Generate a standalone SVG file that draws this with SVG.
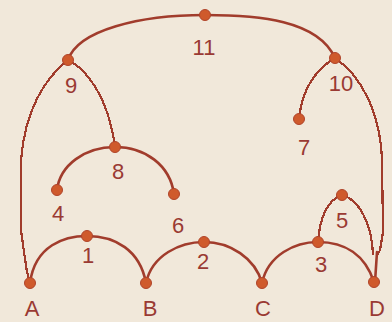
<svg xmlns="http://www.w3.org/2000/svg" width="392" height="322" viewBox="0 0 392 322">
<style>
.arc{fill:none;stroke:#a13c2c;stroke-width:2.6;stroke-linecap:round}
.jag{fill:none;stroke:#a13c2c;stroke-width:2.2;shape-rendering:crispEdges}
.dot{fill:#cf5a2c;stroke:#b0442a;stroke-width:1}
.lbl{font-family:"Liberation Sans",Arial,sans-serif;font-size:22px;fill:#9a3a33;text-anchor:middle}
</style>
<rect width="392" height="322" fill="#f1e8da"/>
<g id="connectors">
<path class="arc" d="M30,283 C35,245 65,236 87,236 C115,236 140,250 146,283"/>
<path class="arc" d="M146,283 C152,255 180,242 204,242 C230,242 255,258 262,283"/>
<path class="arc" d="M262,283 C268,255 295,242 318,242 C345,242 365,255 374,282"/>
<path class="arc" d="M57,190 C60,165 85,147 115,147 C145,147 170,165 174,194"/>
<path class="arc" d="M68,60 C78,30 140,15 205,15 C258,15 318,20 335,58"/>
<path class="jag" d="M68,60 C45,78 25,110 21,160 L21,230 L24,252 L27,272 L30,283"/>
<path class="jag" d="M68,60 C85,68 108,95 115,147"/>
<path class="jag" d="M335,58 C315,70 302,90 299,119"/>
<path class="jag" d="M335,58 C360,75 380,110 382,160 L383,232 L380,250 L377,256"/>
<path class="arc" d="M377,252 L375,282"/>
<path class="jag" d="M342,195 C328,200 320,215 318,242"/>
<path class="jag" d="M342,195 C360,200 372,225 373,255"/>
</g>
<g id="n11"><circle class="dot" cx="205" cy="15" r="5.5"/><text class="lbl" x="204" y="55">11</text></g>
<g id="n9"><circle class="dot" cx="68" cy="60" r="5.5"/><text class="lbl" x="71" y="93">9</text></g>
<g id="n10"><circle class="dot" cx="335" cy="58" r="5.5"/><text class="lbl" x="341" y="91">10</text></g>
<g id="n7"><circle class="dot" cx="299" cy="119" r="5.5"/><text class="lbl" x="304" y="155">7</text></g>
<g id="n8"><circle class="dot" cx="115" cy="147" r="5.5"/><text class="lbl" x="118" y="179">8</text></g>
<g id="n4"><circle class="dot" cx="57" cy="190" r="5.5"/><text class="lbl" x="58" y="221">4</text></g>
<g id="n6"><circle class="dot" cx="174" cy="194" r="5.5"/><text class="lbl" x="178" y="233">6</text></g>
<g id="n5"><circle class="dot" cx="342" cy="195" r="5.5"/><text class="lbl" x="342" y="228">5</text></g>
<g id="n1"><circle class="dot" cx="87" cy="236" r="5.5"/><text class="lbl" x="88" y="263">1</text></g>
<g id="n2"><circle class="dot" cx="204" cy="242" r="5.5"/><text class="lbl" x="203" y="269">2</text></g>
<g id="n3"><circle class="dot" cx="318" cy="242" r="5.5"/><text class="lbl" x="321" y="272">3</text></g>
<g id="nA"><circle class="dot" cx="30" cy="283" r="5.5"/><text class="lbl" x="32" y="316">A</text></g>
<g id="nB"><circle class="dot" cx="146" cy="283" r="5.5"/><text class="lbl" x="150" y="316">B</text></g>
<g id="nC"><circle class="dot" cx="262" cy="283" r="5.5"/><text class="lbl" x="263" y="316">C</text></g>
<g id="nD"><circle class="dot" cx="374" cy="282" r="5.5"/><text class="lbl" x="377" y="316">D</text></g>
</svg>
